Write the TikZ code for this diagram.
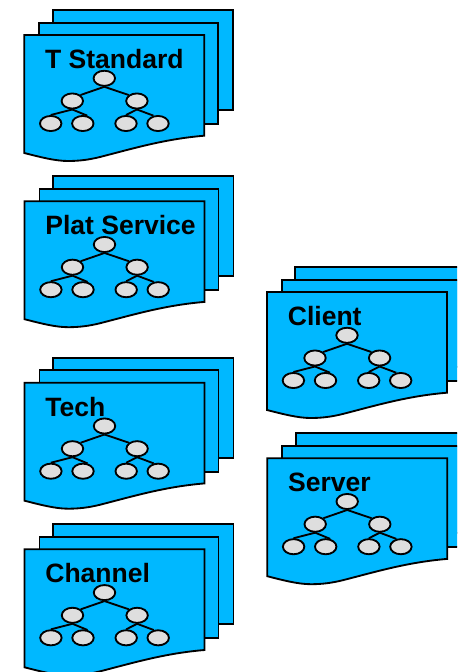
\documentclass[tikz,border=0pt]{standalone}
\usepackage{fontspec}
\setmainfont{Liberation Sans}
\usetikzlibrary{shapes.geometric}
\definecolor{sheetblue}{HTML}{00B8FF}
\definecolor{leafgray}{HTML}{DEDEDE}
\tikzset{
	sheet/.style={draw=black, fill=sheetblue, line width=1.05pt, line join=miter},
	leaf/.style={ellipse, draw=black, fill=leafgray, line width=1.05pt, minimum width=12.2pt, minimum height=8.6pt, inner sep=0pt},
	branch/.style={draw=black, line width=1.05pt},
	title/.style={anchor=base west, inner sep=0pt, font=\fontsize{15.1}{18}\selectfont\bfseries},
	docstack/.pic={
		\draw[sheet] (52.7, 10) -- (233.3, 10) -- (233.3, 110) -- (52.7, 110) -- cycle;
		\draw[sheet] (39.3, 22.7) -- (218.3, 22.7) -- (218.3, 124) -- (39.3, 124) -- cycle;
		\draw[sheet] (24.3, 35) -- (204.3, 35) -- (204.3, 135.7) .. controls (165, 139) and (135, 148) .. (100, 157) .. controls (88, 160) and (78, 161) .. (68, 161) .. controls (55, 161) and (40, 157) .. (24.3, 153) -- cycle;
		\node[title] (label) at (44.8, 68.5) {\tikzpictext};
		\node[leaf] (root) at (104.3, 78.3) {};
		\node[leaf] (left) at (72.3, 101) {};
		\node[leaf] (right) at (136.9, 101) {};
		\node[leaf] (a) at (50.7, 123.5) {};
		\node[leaf] (b) at (82.8, 123.5) {};
		\node[leaf] (c) at (126, 123.5) {};
		\node[leaf] (d) at (158, 123.5) {};
		\draw[branch] (root.south) -- (left.north east);
		\draw[branch] (root.south) -- (right.north west);
		\draw[branch] (left.south) -- (a.north);
		\draw[branch] (left.south) -- (b.60);
		\draw[branch] (right.south) -- (c.north);
		\draw[branch] (right.south) -- (d.120);
	}
}
\begin{document}
\begin{tikzpicture}[x=0.02cm, y=-0.02cm]
	\useasboundingbox (0, 0) rectangle (457, 672);
	\clip (0, 0) rectangle (457, 672);

	\pic (standard) at (0, 0) [pic text={T Standard}] {docstack};
	\pic (service) at (0.2, 166.2) [pic text={Plat Service}] {docstack};
	\pic (tech) at (0.2, 347.7) [pic text={Tech}] {docstack};
	\pic (channel) at (0.2, 514.3) [pic text={Channel}] {docstack};

	\pic (client) at (242.7, 257) [pic text={Client}] {docstack};
	\pic (server) at (242.9, 423.2) [pic text={Server}] {docstack};
\end{tikzpicture}
\end{document}
